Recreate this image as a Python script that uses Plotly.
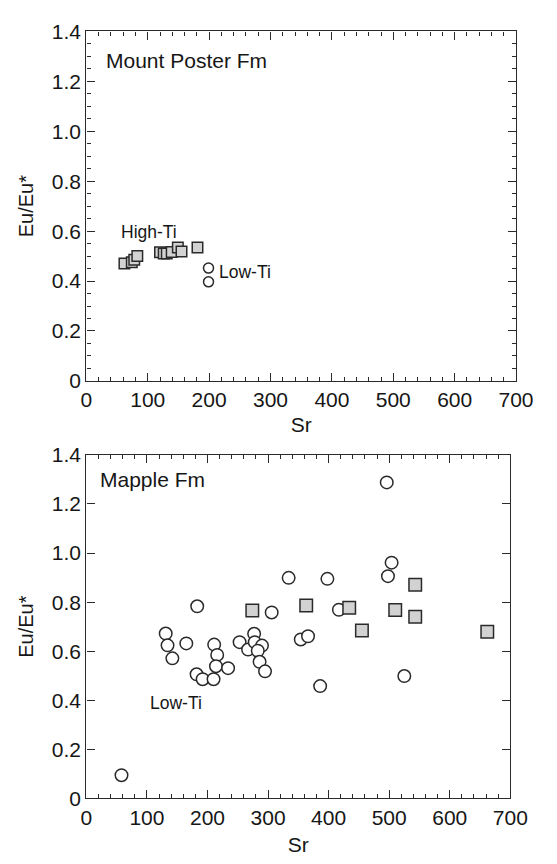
import plotly.graph_objects as go

# ---------------- data ----------------
# Mount Poster Fm
mp_high_sr = [62, 74, 78, 83, 120, 126, 131, 139, 149, 155, 181]
mp_high_eu = [0.470, 0.475, 0.485, 0.500, 0.515, 0.510, 0.510, 0.516, 0.535, 0.518, 0.535]
mp_low_sr = [199, 199]
mp_low_eu = [0.452, 0.397]

# Mapple Fm
ma_low_sr = [58, 131, 134, 142, 165, 183, 182, 192, 210, 211, 216, 214, 234, 253, 267,
             277, 278, 290, 283, 286, 295, 306, 334, 354, 366, 386, 398, 417, 496, 498,
             504, 525]
ma_low_eu = [0.095, 0.672, 0.624, 0.571, 0.632, 0.783, 0.506, 0.486, 0.486, 0.627, 0.585,
             0.539, 0.531, 0.637, 0.607, 0.671, 0.637, 0.623, 0.602, 0.557, 0.518, 0.758,
             0.899, 0.648, 0.661, 0.458, 0.895, 0.769, 1.288, 0.906, 0.961, 0.499]
ma_high_sr = [274, 363, 434, 455, 510, 543, 543, 662]
ma_high_eu = [0.766, 0.786, 0.777, 0.684, 0.768, 0.871, 0.741, 0.679]

x_ticks = [0, 100, 200, 300, 400, 500, 600, 700]
x_tick_labels = ["0", "100", "200", "300", "400", "500", "600", "700"]
y_ticks = [0, 0.2, 0.4, 0.6, 0.8, 1.0, 1.2, 1.4]
y_tick_labels = ["0", "0.2", "0.4", "0.6", "0.8", "1.0", "1.2", "1.4"]

# ---------------- figure ----------------
W, H = 557, 864
FONT = "Liberation Sans, Arial, sans-serif"
LINE = "#2a2a2a"
TXT = "#161616"
SQ_FILL = "#d2d2d2"

fig = go.Figure()

def sq(x, y, xa, ya, size):
    return go.Scatter(x=x, y=y, xaxis=xa, yaxis=ya, mode="markers", showlegend=False,
                      marker=dict(symbol="square", size=size, color=SQ_FILL,
                                  line=dict(color=LINE, width=1.5)))

def ci(x, y, xa, ya, size):
    return go.Scatter(x=x, y=y, xaxis=xa, yaxis=ya, mode="markers", showlegend=False,
                      marker=dict(symbol="circle", size=size, color="white",
                                  line=dict(color=LINE, width=1.5)))

fig.add_trace(sq(mp_high_sr, mp_high_eu, "x", "y", 10.5))
fig.add_trace(ci(mp_low_sr, mp_low_eu, "x", "y", 10))
fig.add_trace(ci(ma_low_sr, ma_low_eu, "x2", "y2", 12.5))
fig.add_trace(sq(ma_high_sr, ma_high_eu, "x2", "y2", 12.5))

def xaxis(domain, anchor, standoff):
    return dict(domain=domain, anchor=anchor, range=[0, 700],
                tickvals=x_ticks, ticktext=x_tick_labels,
                showline=True, linecolor=LINE, linewidth=1.3, mirror="ticks",
                ticks="inside", ticklen=8, tickwidth=1.2, tickcolor=LINE,
                minor=dict(dtick=20, ticks="inside", ticklen=4, tickwidth=1, tickcolor=LINE),
                showgrid=False, zeroline=False,
                tickfont=dict(family=FONT, size=21, color=TXT),
                title=dict(text="Sr", font=dict(family=FONT, size=21, color=TXT), standoff=standoff))

def yaxis(domain, anchor, minor):
    d = dict(domain=domain, anchor=anchor, range=[0, 1.4],
             tickvals=y_ticks, ticktext=y_tick_labels,
             showline=True, linecolor=LINE, linewidth=1.3, mirror="ticks",
             ticks="inside", ticklen=8, tickwidth=1.2, tickcolor=LINE,
             showgrid=False, zeroline=False,
             tickfont=dict(family=FONT, size=21, color=TXT),
             title=dict(text="Eu/Eu*", font=dict(family=FONT, size=20, color=TXT), standoff=12))
    if minor:
        d["minor"] = dict(dtick=0.05, ticks="inside", ticklen=4, tickwidth=1, tickcolor=LINE)
    return d

fig.update_layout(
    width=W, height=H, margin=dict(l=0, r=0, t=0, b=0),
    paper_bgcolor="white", plot_bgcolor="white",
    xaxis=xaxis([84 / W, 533 / W], "y", 7),
    yaxis=yaxis([1 - 379 / H, 1 - 20 / H], "x", True),
    xaxis2=xaxis([84 / W, 527 / W], "y2", 9),
    yaxis2=yaxis([1 - 808 / H, 1 - 455 / H], "x2", False),
)

ann = [
    dict(text="Mount Poster Fm", x=29, y=1.285, xref="x", yref="y", xanchor="left", size=21),
    dict(text="High-Ti", x=102, y=0.597, xref="x", yref="y", xanchor="center", size=17.5),
    dict(text="Low-Ti", x=213, y=0.435, xref="x", yref="y", xanchor="left", size=17.5),
    dict(text="Mapple Fm", x=20, y=1.299, xref="x2", yref="y2", xanchor="left", size=21),
    dict(text="Low-Ti", x=148, y=0.389, xref="x2", yref="y2", xanchor="center", size=17.5),
]
for a in ann:
    fig.add_annotation(text=a["text"], x=a["x"], y=a["y"], xref=a["xref"], yref=a["yref"],
                       xanchor=a["xanchor"], yanchor="middle", showarrow=False,
                       font=dict(family=FONT, size=a["size"], color=TXT))

fig.write_html("out.html")
